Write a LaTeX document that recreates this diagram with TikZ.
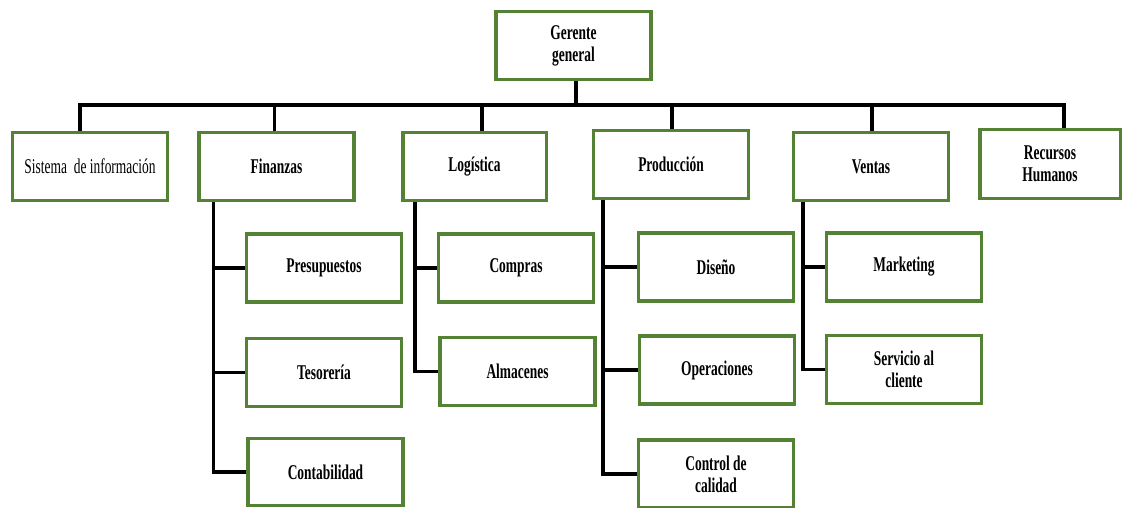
\documentclass[tikz,border=0pt]{standalone}
\usepackage{fontspec}
\setmainfont{Liberation Serif}[FakeStretch=0.64]
\usepackage{tikz}
\usetikzlibrary{backgrounds}
\definecolor{boxgreen}{RGB}{84,130,53}

\begin{document}
\begin{tikzpicture}[x=1pt,y=-1pt,
        box/.style={draw=boxgreen,line width=3.5pt,fill=white,
            minimum width=155pt,minimum height=68pt,inner sep=0pt,
            align=center,font=\fontsize{21}{22}\selectfont\bfseries},
        conn/.style={line width=3.5pt}]
                \useasboundingbox (0,0) rectangle (1123,508);

                \node[box] (ger) at (573.5,45.5) {Gerente\\general};

                \node[box,font=\fontsize{21}{22}\selectfont] (sis) at (90,166.5) {Sistema~ de información};
                \node[box] (fin) at (276.5,166.5) {Finanzas};
                \node[box,minimum width=143.5pt] (log) at (474.5,166.5) {Logística};
                \node[box] (pro) at (671,164.5) {Producción};
                \node[box] (ven) at (871,166.5) {Ventas};
                \node[box,minimum width=140.5pt,minimum height=69pt] (rrhh) at (1050,164) {Recursos\\Humanos};

                \node[box] (pre) at (324,268) {Presupuestos};
                \node[box] (tes) at (324,372.5) {Tesorería};
                \node[box,minimum height=67pt] (con) at (325.5,472) {Contabilidad};

                \node[box] (com) at (516,268) {Compras};
                \node[box] (alm) at (517.5,371.5) {Almacenes};

                \node[box] (dis) at (716,267) {Diseño};
                \node[box] (ope) at (717,370) {Operaciones};
                \node[box] (cal) at (716,474) {Control de\\calidad};

                \node[box] (mar) at (904,267) {Marketing};
                \node[box] (ser) at (904,369.5) {Servicio al\\cliente};

                \begin{scope}[on background layer]
                \coordinate (bus) at (576,105);
                \draw[conn] ([xshift=2.5pt]ger.south) -- ([xshift=2.5pt]ger.south |- bus);
                \draw[conn] ([xshift=-10pt]sis.north) |- (bus) -| ([xshift=14pt]rrhh.north);
                \draw[conn] ([xshift=-2pt]fin.north) -- ([xshift=-2pt]fin.north |- bus);
                \draw[conn] ([xshift=7.5pt]log.north) -- ([xshift=7.5pt]log.north |- bus);
                \draw[conn] ([xshift=1pt]pro.north) -- ([xshift=1pt]pro.north |- bus);
                \draw[conn] ([xshift=1pt]ven.north) -- ([xshift=1pt]ven.north |- bus);

                \coordinate (finsp) at ([xshift=16pt]fin.south west);
                \draw[conn] (finsp) |- (con.west);
                \draw[conn] (finsp |- pre.west) -- (pre.west);
                \draw[conn] (finsp |- tes.west) -- (tes.west);

                \coordinate (logsp) at ([xshift=14pt]log.south west);
                \draw[conn] (logsp) |- (alm.west);
                \draw[conn] (logsp |- com.west) -- (com.west);

                \coordinate (prosp) at ([xshift=11pt]pro.south west);
                \draw[conn] (prosp) |- (cal.west);
                \draw[conn] (prosp |- dis.west) -- (dis.west);
                \draw[conn] (prosp |- ope.west) -- (ope.west);

                \coordinate (vensp) at ([xshift=11pt]ven.south west);
                \draw[conn] (vensp) |- (ser.west);
                \draw[conn] (vensp |- mar.west) -- (mar.west);
                \end{scope}
\end{tikzpicture}
\end{document}
